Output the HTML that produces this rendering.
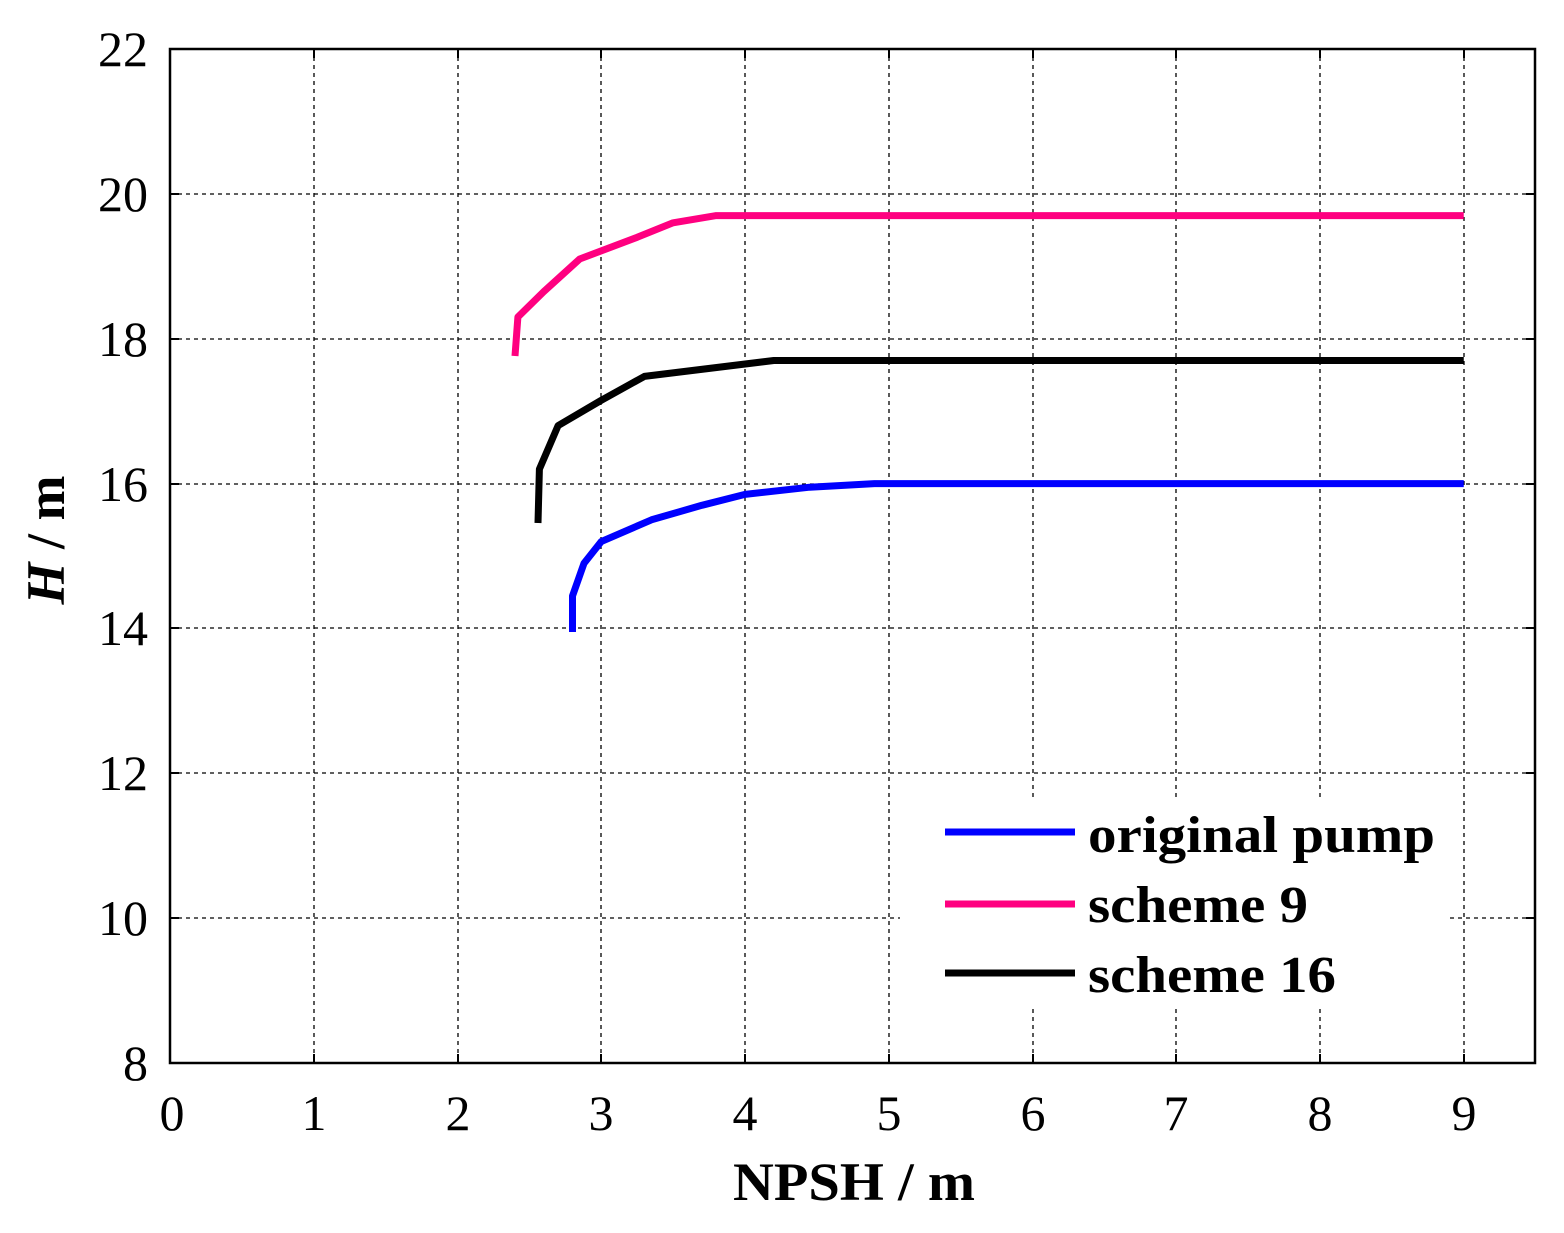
<!DOCTYPE html>
<html><head><meta charset="utf-8"><style>body{margin:0;background:#fff}</style></head>
<body>
<svg width="1564" height="1228" viewBox="0 0 1564 1228" xmlns="http://www.w3.org/2000/svg" font-family="Liberation Serif, serif">
<rect width="1564" height="1228" fill="#fff"/>
<g stroke="#000" stroke-width="1.3" stroke-dasharray="4,4">
<line x1="314" y1="49" x2="314" y2="1063"/>
<line x1="458" y1="49" x2="458" y2="1063"/>
<line x1="601" y1="49" x2="601" y2="1063"/>
<line x1="745" y1="49" x2="745" y2="1063"/>
<line x1="889" y1="49" x2="889" y2="1063"/>
<line x1="1033" y1="49" x2="1033" y2="1063"/>
<line x1="1176" y1="49" x2="1176" y2="1063"/>
<line x1="1320" y1="49" x2="1320" y2="1063"/>
<line x1="1464" y1="49" x2="1464" y2="1063"/>
<line x1="170" y1="194" x2="1535" y2="194"/>
<line x1="170" y1="339" x2="1535" y2="339"/>
<line x1="170" y1="484" x2="1535" y2="484"/>
<line x1="170" y1="628" x2="1535" y2="628"/>
<line x1="170" y1="773" x2="1535" y2="773"/>
<line x1="170" y1="918" x2="1535" y2="918"/>
</g>
<rect x="900" y="797" width="550" height="208" fill="#fff"/>
<g stroke="#000" stroke-width="2">
<path d="M314 1063v-9M458 1063v-9M601 1063v-9M745 1063v-9M889 1063v-9M1033 1063v-9M1176 1063v-9M1320 1063v-9M1464 1063v-9"/>
<path d="M314 49v9M458 49v9M601 49v9M745 49v9M889 49v9M1033 49v9M1176 49v9M1320 49v9M1464 49v9"/>
<path d="M170 194h9M170 339h9M170 484h9M170 628h9M170 773h9M170 918h9"/>
<path d="M1535 194h-9M1535 339h-9M1535 484h-9M1535 628h-9M1535 773h-9M1535 918h-9"/>
</g>
<rect x="170" y="49" width="1365" height="1014" fill="none" stroke="#000" stroke-width="2.5"/>
<g fill="none" stroke-width="7" stroke-linejoin="round">
<polyline stroke="#0000ff" points="572.5,632 572.5,595.9 584,563.3 601.25,541.6 651.6,519.8 701.9,505.3 745,494.4 809.7,487.2 874.4,483.6 1463.75,483.6"/>
<polyline stroke="#ff0080" points="515,356 517.9,317 543.75,291.6 579.7,259 637.2,237.3 673.1,222.8 716.25,215.6 1463.75,215.6"/>
<polyline stroke="#000" points="538,523 539.4,469.1 558.1,425.6 601.25,400.3 644.4,376.4 773.75,360.5 1463.75,360.5"/>
<line x1="945" y1="832" x2="1075" y2="832" stroke="#0000ff"/>
<line x1="945" y1="904" x2="1075" y2="904" stroke="#ff0080"/>
<line x1="945" y1="973" x2="1075" y2="973" stroke="#000"/>
</g>
<g font-size="52" font-weight="bold">
<text x="1088" y="852" textLength="347" lengthAdjust="spacingAndGlyphs">original pump</text>
<text x="1088" y="922" textLength="220" lengthAdjust="spacingAndGlyphs">scheme 9</text>
<text x="1088" y="992" textLength="248" lengthAdjust="spacingAndGlyphs">scheme 16</text>
</g>
<g font-size="50" text-anchor="middle">
<text x="172" y="1130">0</text><text x="314" y="1130">1</text><text x="458" y="1130">2</text>
<text x="601" y="1130">3</text><text x="745" y="1130">4</text><text x="889" y="1130">5</text>
<text x="1033" y="1130">6</text><text x="1176" y="1130">7</text><text x="1320" y="1130">8</text>
<text x="1464" y="1130">9</text>
</g>
<g font-size="50" text-anchor="end">
<text x="148" y="66">22</text><text x="148" y="211">20</text><text x="148" y="356">18</text>
<text x="148" y="501">16</text><text x="148" y="645">14</text><text x="148" y="790">12</text>
<text x="148" y="935">10</text><text x="148" y="1080">8</text>
</g>
<text x="854" y="1200" font-size="54" font-weight="bold" text-anchor="middle" textLength="242" lengthAdjust="spacingAndGlyphs">NPSH / m</text>
<text transform="translate(64,540) rotate(-90)" font-size="54" font-weight="bold" text-anchor="middle"><tspan font-style="italic">H</tspan> / m</text>
</svg>
</body></html>
